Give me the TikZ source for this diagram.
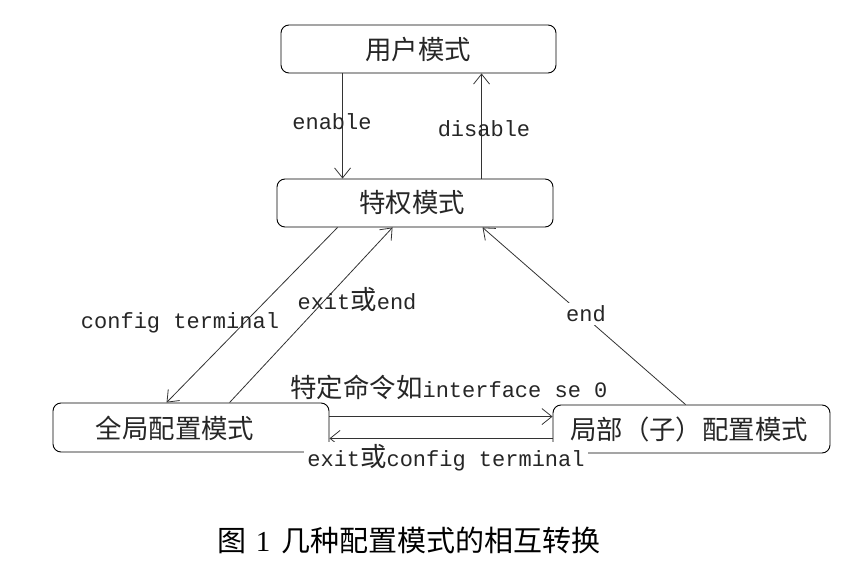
\documentclass[tikz,border=0pt]{standalone}
\usepackage{fontspec}
\setmainfont{Liberation Mono}
\newfontfamily\cjk[Scale=1.2]{Noto Sans CJK SC}
\newfontfamily\capcjk{Noto Sans CJK SC}
\newfontfamily\capserif{Liberation Serif}
\usetikzlibrary{arrows.meta}
\begin{document}
\begin{tikzpicture}[x=1pt,y=-1pt,
  every node/.style={font=\fontsize{22}{24}\selectfont},
  modebox/.style={draw=black,line width=0.9pt,rounded corners=8pt,inner sep=0pt},
  lbl/.style={inner sep=1pt,text=black!85},
  conn/.style={draw=black!80,line width=0.8pt,-{Straight Barb[length=10pt,width=16pt]}}]
\useasboundingbox (0,0) rectangle (855,575);
% boxes
\node[modebox,minimum width=275pt,minimum height=48pt] (user) at (418.5,49) {};
\node[modebox,minimum width=276pt,minimum height=48pt] (priv) at (415,203) {};
\node[modebox,minimum width=276pt,minimum height=49pt] (glob) at (191,427.5) {};
\node[modebox,minimum width=277pt,minimum height=48pt] (loc) at (691.5,429) {};
% box texts
\node[lbl] (usert) at (418,49) {\cjk 用户模式};
\node[lbl] (privt) at (412,203) {\cjk 特权模式};
\node[lbl] (globt) at (175,428) {\cjk 全局配置模式};
\node[lbl] (loct) at (689,429) {\cjk 局部（子）配置模式};
% connectors
\draw[conn] ([xshift=62pt]user.south west) -- ([xshift=66pt]priv.north west);
\draw[conn] ([xshift=205pt]priv.north west) -- ([xshift=201pt]user.south west);
\draw[conn] ([xshift=61pt]priv.south west) -- ([xshift=114pt]glob.north west);
\draw[conn] ([xshift=177pt]glob.north west) -- ([xshift=116pt]priv.south west);
\draw[conn] ([xshift=133pt]loc.north west) -- ([xshift=206pt]priv.south west);
\draw[conn] ([yshift=-14pt]glob.north east) -- ([yshift=-14pt]glob.north east -| loc.west);
\draw[conn] ([yshift=14pt]glob.south east -| loc.west) -- ([yshift=14pt]glob.south east);
% labels
\node[lbl] (lenable) at (332,122) {enable};
\node[lbl] (ldisable) at (484,129) {disable};
\node[lbl] (lconf) at (180,323) {config terminal};
\node[lbl] (lexit) at (357,300) {exit{\cjk 或}end};
\node[lbl,fill=white,inner sep=3pt] (lend) at (586,314) {end};
\node[lbl] (lspec) at (449,387) {{\cjk 特定命令如}interface se 0};
\node[lbl,fill=white,inner sep=3pt] (lexit2) at (446,458) {exit{\cjk 或}config terminal};
% caption
\node[inner sep=0pt] (cap) at (409,540) {\fontsize{29}{31}\selectfont\capcjk 图\hspace{9pt}{\capserif 1}\hspace{11pt}几种配置模式的相互转换};
\end{tikzpicture}
\end{document}
